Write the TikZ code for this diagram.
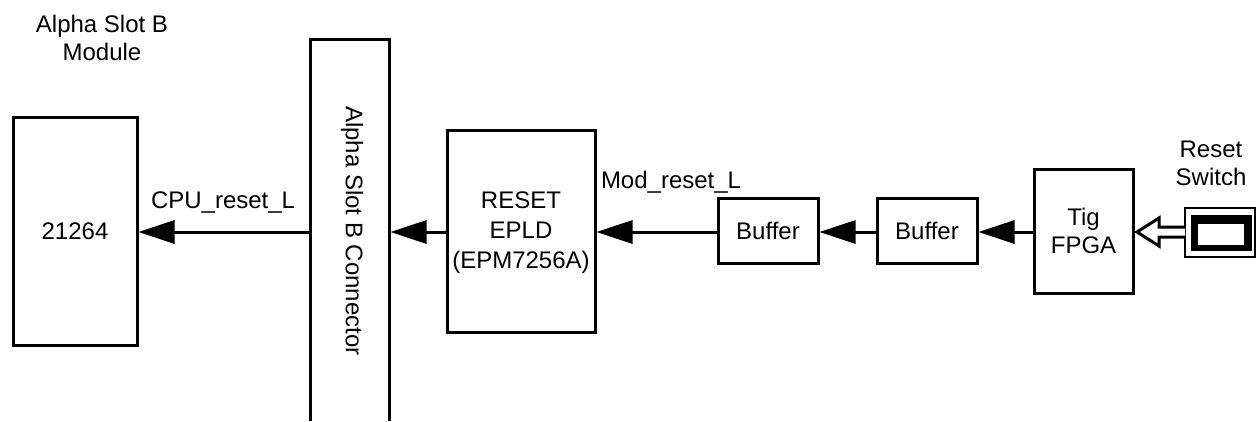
\documentclass[tikz,border=0pt]{standalone}
\usepackage{fontspec}
\setmainfont{Liberation Sans}
\usetikzlibrary{arrows.meta,calc}
\tikzset{
  x=1pt,y=-1pt,
  box/.style={draw=black,line width=3pt,inner sep=0pt,outer sep=0pt,align=center,anchor=north west,font=\lbl},
  label text/.style={inner sep=0pt,outer sep=0pt,align=center,font=\lbl},
  sig/.style={line width=3pt,-{Triangle[length=36pt,width=23pt]},shorten >=1.5pt},
}
\newcommand{\lbl}{\fontsize{24}{32}\selectfont}
\newcommand{\boxat}[6]{\node[box,minimum width=#4pt-#2pt,minimum height=#5pt-#3pt] (#1) at (#2,#3) {#6};}
\begin{document}
\begin{tikzpicture}
\useasboundingbox (0,0) rectangle (1256,421);
\coordinate (row) at (0,232);
\boxat{cpu}{13}{117}{137}{345}{21264}
\boxat{epld}{447}{130}{595}{332}{}
\node[label text] (epldtext) at (521,233) {RESET\\[-2pt]EPLD\\[-2pt](EPM7256A)};
\boxat{bufa}{718}{198}{818}{263}{Buffer}
\boxat{bufb}{877}{198}{977}{263}{Buffer}
\boxat{tig}{1034}{169}{1133}{293}{Tig\\[-4pt]FPGA}
% connector, open at the bottom
\node[inner sep=0pt,outer sep=0pt,minimum width=79pt,minimum height=382pt,anchor=north west] (conn) at (310,39) {};
\draw[line width=3pt,line join=miter] (conn.south west) -- (conn.north west) -- (conn.north east) -- (conn.south east);
\node[label text,rotate=-90] (connlabel) at (352,231) {Alpha Slot B Connector};
% reset switch
\node[draw=black,line width=2pt,inner sep=0pt,outer sep=0pt,minimum width=70pt,minimum height=49pt,anchor=north west] (switch) at (1185,208) {};
\node[fill=black,inner sep=0pt,outer sep=0pt,minimum width=61pt,minimum height=36pt] (knob) at (1221.5,233) {};
\node[fill=white,inner sep=0pt,outer sep=0pt,minimum width=46pt,minimum height=21pt] (knobface) at (1221,234.5) {};
% signals
\draw[sig] (conn.west |- row) -- (cpu.east |- row);
\draw[sig] (epld.west |- row) -- (conn.east |- row);
\draw[sig] (bufa.west |- row) -- (epld.east |- row);
\draw[sig] (bufb.west |- row) -- (bufa.east |- row);
\draw[sig] (tig.west |- row) -- (bufb.east |- row);
% hollow arrow
\draw[line width=3pt,fill=white,line join=miter,miter limit=4]
  ($(switch.west |- row)+(0,-5)$) -- ++(-26,0) -- ++(0,-9) -- ($(tig.east |- row)+(4,0)$)
  -- ($(switch.west |- row)+(-26,14)$) -- ++(0,-9) -- ++(26,0);
% labels
\node[label text,anchor=base] (title) at (102,32) {Alpha Slot B};
\node[label text,anchor=base] (title2) at (102,60) {Module};
\node[label text,anchor=base west] (cpusig) at (151,208) {CPU\_reset\_L};
\node[label text,anchor=base west] (modsig) at (601,188) {Mod\_reset\_L};
\node[label text,anchor=base] (rst) at (1211,157) {Reset};
\node[label text,anchor=base] (rst2) at (1211,185) {Switch};
\end{tikzpicture}
\end{document}
